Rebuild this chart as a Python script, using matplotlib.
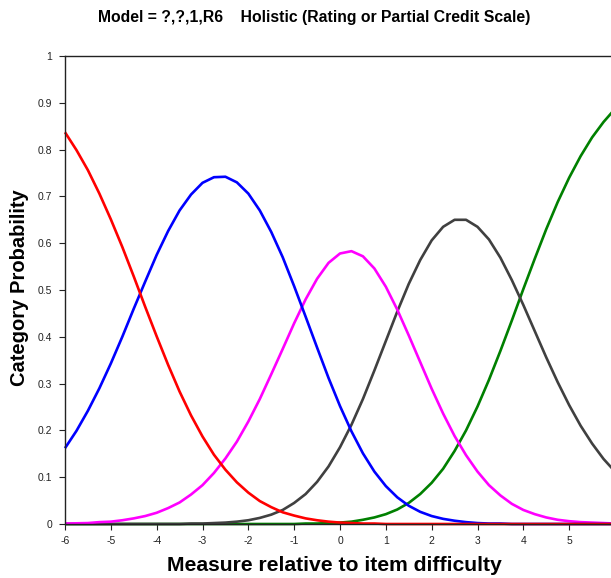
import numpy as np
import matplotlib
matplotlib.use("Agg")
import matplotlib.pyplot as plt

plt.rcParams['font.family'] = ['Liberation Sans', 'DejaVu Sans']

measure = [-6, -5.75, -5.5, -5.25, -5, -4.75, -4.5, -4.25, -4, -3.75, -3.5, -3.25,
           -3, -2.75, -2.5, -2.25, -2, -1.75, -1.5, -1.25, -1, -0.75, -0.5, -0.25,
           0, 0.25, 0.5, 0.75, 1, 1.25, 1.5, 1.75, 2, 2.25, 2.5, 2.75, 3, 3.25,
           3.5, 3.75, 4, 4.25, 4.5, 4.75, 5, 5.25, 5.5, 5.75, 6]

cat1 = [0.837, 0.799, 0.756, 0.706, 0.651, 0.592, 0.529, 0.464, 0.401, 0.340, 0.283, 0.232,
        0.187, 0.148, 0.116, 0.089, 0.067, 0.049, 0.036, 0.025, 0.018, 0.012, 0.008, 0.005,
        0.003, 0.002, 0.001, 0.001, 0.0, 0.0, 0.0, 0.0, 0.0, 0.0, 0.0, 0.0, 0.0, 0.0,
        0.0, 0.0, 0.0, 0.0, 0.0, 0.0, 0.0, 0.0, 0.0, 0.0, 0.0]
cat2 = [0.162, 0.199, 0.242, 0.290, 0.343, 0.400, 0.460, 0.518, 0.575, 0.626, 0.670, 0.704,
        0.729, 0.741, 0.742, 0.730, 0.706, 0.670, 0.624, 0.570, 0.508, 0.443, 0.377, 0.312,
        0.252, 0.198, 0.151, 0.112, 0.081, 0.057, 0.039, 0.026, 0.017, 0.011, 0.007, 0.004,
        0.002, 0.001, 0.001, 0.0, 0.0, 0.0, 0.0, 0.0, 0.0, 0.0, 0.0, 0.0, 0.0]
cat3 = [0.001, 0.0015, 0.002, 0.004, 0.005, 0.008, 0.012, 0.017, 0.024, 0.034, 0.046, 0.063,
        0.083, 0.109, 0.140, 0.176, 0.219, 0.267, 0.320, 0.374, 0.429, 0.480, 0.524, 0.558,
        0.578, 0.583, 0.572, 0.546, 0.507, 0.458, 0.403, 0.346, 0.289, 0.236, 0.188, 0.147,
        0.112, 0.083, 0.061, 0.043, 0.030, 0.021, 0.014, 0.009, 0.006, 0.004, 0.003, 0.002, 0.001]
cat4 = [0.0, 0.0, 0.0, 0.0, 0.0, 0.0, 0.0, 0.0, 0.0, 0.0, 0.0, 0.001,
        0.001, 0.002, 0.003, 0.005, 0.008, 0.013, 0.020, 0.030, 0.045, 0.064, 0.090, 0.123,
        0.164, 0.212, 0.267, 0.328, 0.391, 0.454, 0.513, 0.564, 0.606, 0.635, 0.650, 0.650,
        0.635, 0.608, 0.569, 0.521, 0.468, 0.412, 0.356, 0.303, 0.254, 0.210, 0.172, 0.139, 0.112]
cat5 = [0.0, 0.0, 0.0, 0.0, 0.0, 0.0, 0.0, 0.0, 0.0, 0.0, 0.0, 0.0,
        0.0, 0.0, 0.0, 0.0, 0.0, 0.0, 0.0, 0.0, 0.0, 0.001, 0.001, 0.002,
        0.003, 0.005, 0.009, 0.014, 0.021, 0.031, 0.045, 0.064, 0.088, 0.118, 0.156, 0.200,
        0.251, 0.308, 0.370, 0.435, 0.502, 0.567, 0.630, 0.688, 0.740, 0.786, 0.826, 0.859, 0.887]

colors = ['#ff0000', '#0000ff', '#ff00ff', '#404040', '#008000']

fig = plt.figure(figsize=(6.11, 5.78), dpi=100)
ax = fig.add_axes([65/611, 54/578, 550/611, 468/578])

# draw order so red ends up on top along the baseline
for ys, c in zip([cat5, cat4, cat3, cat2, cat1], colors[::-1]):
    ax.plot(measure, ys, color=c, lw=1.9, solid_capstyle='butt', clip_on=False)

ax.set_xlim(-6, 6)
ax.set_ylim(0, 1)
# the 6 tick sits past the right edge of the picture
ax.set_xticks(range(-6, 6))
ax.set_xticklabels([str(v) for v in range(-6, 6)])
yt = [0, 0.1, 0.2, 0.3, 0.4, 0.5, 0.6, 0.7, 0.8, 0.9, 1]
ax.set_yticks(yt)
ax.set_yticklabels(['0', '0.1', '0.2', '0.3', '0.4', '0.5', '0.6', '0.7', '0.8', '0.9', '1'])
ax.tick_params(direction='out', length=4, width=0.8, labelsize=7.5, colors='#222222', pad=5)
for s in ax.spines.values():
    s.set_linewidth(1.0)
    s.set_color('#222222')

fig.text(0.515, 0.969, 'Model = ?,?,1,R6    Holistic (Rating or Partial Credit Scale)',
         ha='center', va='center', fontsize=11.3, fontweight='bold')
fig.text(0.548, 0.022, 'Measure relative to item difficulty', ha='center', va='center',
         fontsize=15.2, fontweight='bold')
fig.text(0.032, 0.503, 'Category Probability', ha='center', va='center', rotation=90,
         fontsize=14.5, fontweight='bold')

fig.savefig('out.png', dpi=100)
